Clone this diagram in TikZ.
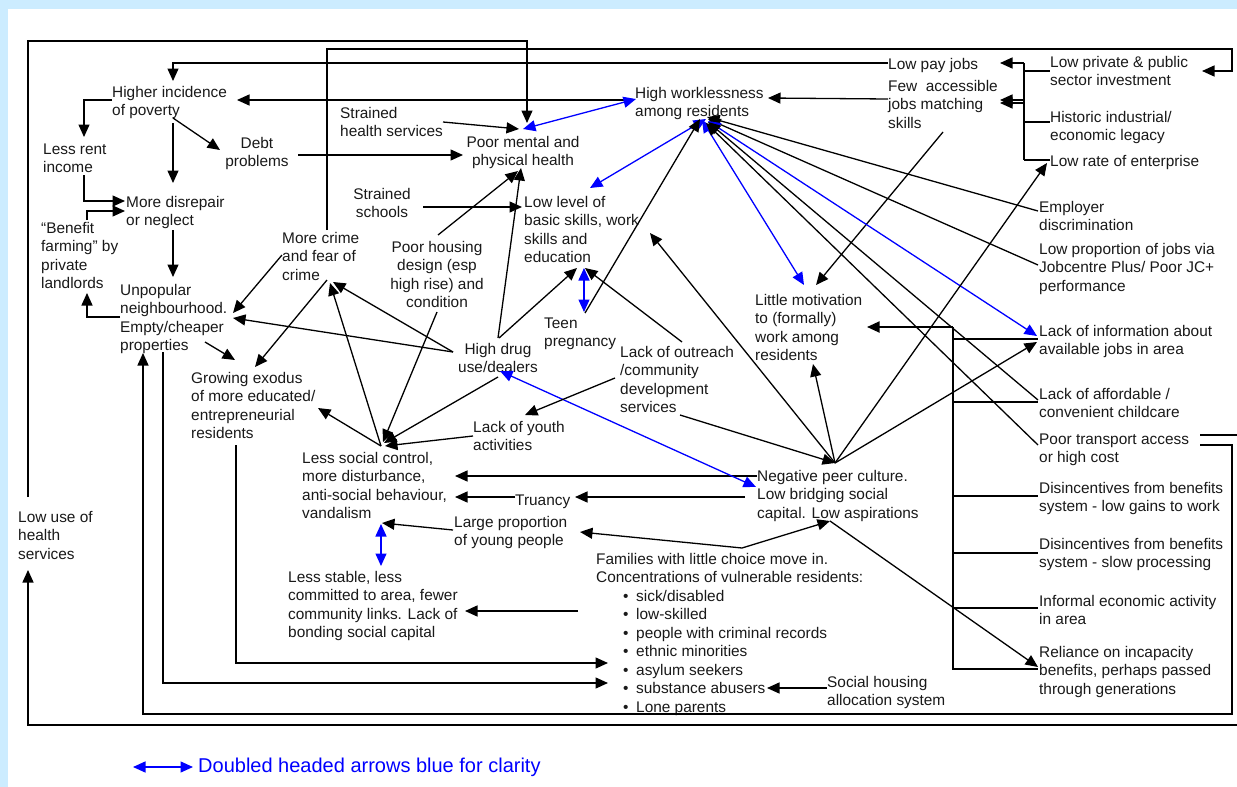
\documentclass[tikz,border=0pt]{standalone}
\usepackage{fontspec}
\setmainfont{Liberation Sans}
\usetikzlibrary{arrows.meta}
\definecolor{bgblue}{RGB}{204,236,255}
\definecolor{ink}{RGB}{25,25,25}
\newcommand\bul{\makebox[13pt][l]{\textbullet}}
\begin{document}
\begin{tikzpicture}[x=1pt,y=-1pt,
  lbl/.style={anchor=base west,inner sep=0pt,align=left,text=ink,font=\fontsize{15.4}{18.5}\selectfont},
  clbl/.style={anchor=base,inner sep=0pt,align=center,text=ink,font=\fontsize{15.4}{18.5}\selectfont},
  nl/.style={yshift={-(#1-1)*18.5pt}},
  conn/.style={line width=1.3pt},
  arr/.style={conn,-{Triangle[length=12.5pt,width=11pt]}},
  barr/.style={conn,blue,{Triangle[length=12.5pt,width=11pt]}-{Triangle[length=12.5pt,width=11pt]}}]
\useasboundingbox (0,0) rectangle (1237,787);
\fill[bgblue] (0,0) rectangle (1237,787);
\fill[white] (8,9) rectangle (1237,787);

% ---------------- nodes (position = baseline of first line)
\node[lbl,nl=2] (hip) at (112,97) {Higher incidence\\of poverty};
\node[lbl,nl=2] (lri) at (43,154) {Less rent\\income};
\node[clbl,nl=2] (debt) at (257,148) {Debt\\problems};
\node[lbl,nl=2] (mdr) at (126,207) {More disrepair\\or neglect};
\node[lbl,nl=4] (bf) at (41,233) {“Benefit\\farming” by\\private\\landlords};
\node[lbl,nl=4] (unp) at (120,295) {Unpopular\\neighbourhood.\\Empty/cheaper\\properties};
\node[lbl,nl=3] (crime) at (282,243) {More crime\\and fear of\\crime};
\node[lbl,nl=2] (shs) at (340,118) {Strained\\health services};
\node[clbl,nl=2] (ss) at (382,199) {Strained\\schools};
\node[clbl,nl=4] (phd) at (437,252) {Poor housing\\design (esp\\high rise) and\\condition};
\node[clbl,nl=2] (pmh) at (523,147) {Poor mental and\\physical health};
\node[lbl,nl=4] (llb) at (524,207) {Low level of\\basic skills, work\\skills and\\education};
\node[lbl,nl=2] (hw) at (635,98) {High worklessness\\among residents};
\node[lbl] (lpj) at (888,69) {Low pay jobs};
\node[lbl,nl=3] (faj) at (888,91) {Few\ \ accessible\\jobs matching\\skills};
\node[lbl,nl=2] (lpi) at (1050,67) {Low private \& public\\sector investment};
\node[lbl,nl=2] (hie) at (1050,122) {Historic industrial/\\economic legacy};
\node[lbl] (lre) at (1050,166) {Low rate of enterprise};
\node[lbl,nl=2] (ed) at (1039,212) {Employer\\discrimination};
\node[lbl,nl=3] (lpjc) at (1039,254) {Low proportion of jobs via\\Jobcentre Plus/ Poor JC+\\performance};
\node[lbl,nl=2] (lia) at (1039,336) {Lack of information about\\available jobs in area};
\node[lbl,nl=2] (lac) at (1039,399) {Lack of affordable /\\convenient childcare};
\node[lbl,nl=2] (pta) at (1039,444) {Poor transport access\\or high cost};
\node[lbl,nl=2] (dlg) at (1039,493) {Disincentives from benefits\\system - low gains to work};
\node[lbl,nl=2] (dsp) at (1039,549) {Disincentives from benefits\\system - slow processing};
\node[lbl,nl=2] (iea) at (1039,606) {Informal economic activity\\in area};
\node[lbl,nl=3] (ric) at (1039,657) {Reliance on incapacity\\benefits, perhaps passed\\through generations};
\node[lbl,nl=2] (shas) at (827,687) {Social housing\\allocation system};
\node[lbl,nl=4] (lmw) at (755,305) {Little motivation\\to (formally)\\work among\\residents};
\node[lbl,nl=3] (npc) at (757,481) {Negative peer culture.\\Low bridging social\\capital. Low aspirations};
\node[lbl,nl=2] (tp) at (544,328) {Teen\\pregnancy};
\node[clbl,nl=2] (hdu) at (498,354) {High drug\\use/dealers};
\node[lbl,nl=4] (lo) at (620,357) {Lack of outreach\\/community\\development\\services};
\node[lbl,nl=2] (ly) at (473,432) {Lack of youth\\activities};
\node[lbl,nl=4] (lsc) at (302,463) {Less social control,\\more disturbance,\\anti-social behaviour,\\vandalism};
\node[lbl] (tru) at (515,505) {Truancy};
\node[lbl,nl=2] (lpy) at (454,527) {Large proportion\\of young people};
\node[lbl,nl=4] (ge) at (191,383) {Growing exodus\\of more educated/\\entrepreneurial\\residents};
\node[lbl,nl=3] (lus) at (18,522) {Low use of\\health\\services};
\node[lbl,nl=4] (lst) at (288,582) {Less stable, less\\committed to area, fewer\\community links. Lack of\\bonding social capital};
\node[lbl,nl=2] (fam) at (596,564) {Families with little choice move in.\\Concentrations of vulnerable residents:};
\node[lbl,nl=7] (vul) at (623,601) {\bul sick/disabled\\\bul low-skilled\\\bul people with criminal records\\\bul ethnic minorities\\\bul asylum seekers\\\bul substance abusers\\\bul Lone parents};
\node[anchor=base west,inner sep=0pt,text=blue,font=\fontsize{20}{24}\selectfont] (legtxt) at (198,772) {Doubled headed arrows blue for clarity};

% ---------------- named points
\coordinate (hwhub) at (706,119);
\coordinate (nphub) at (835,463);
\coordinate (lshub) at (381,446);
\coordinate (famhub) at (742,548);
\coordinate (npbot) at (830,521);
\coordinate (lusT) at (28,497);
\coordinate (pmhT) at (527,123);
\coordinate (crT) at (327,230);
\coordinate (lpiR) at (1202,71);
\coordinate (lpjL) at (888,63);
\coordinate (hipT) at (173,81);
\coordinate (hwL) at (633,100);
\coordinate (hipR) at (237,100);
\coordinate (pmhR) at (523,129);
\coordinate (hwL2) at (636,99);
\coordinate (fajL) at (888,99);
\coordinate (hwR) at (768,98);
\coordinate (brT) at (1024,63);
\coordinate (brB) at (1024,160);
\coordinate (lpjR) at (1000,63);
\coordinate (hipL) at (112,100);
\coordinate (lriT) at (84,137);
\coordinate (hipB) at (173,123);
\coordinate (mdrT) at (173,183);
\coordinate (hipB2) at (173,118);
\coordinate (debtL) at (220,150);
\coordinate (lriB) at (84,175);
\coordinate (mdrL) at (125,201);
\coordinate (bfT) at (87,220);
\coordinate (mdrL2) at (125,211);
\coordinate (mdrB) at (173,230);
\coordinate (unpT) at (173,277);
\coordinate (unpL) at (120,317);
\coordinate (bfB) at (87,293);
\coordinate (debtR) at (298,155);
\coordinate (pmhL) at (463,155);
\coordinate (shsR) at (443,122);
\coordinate (pmhL2) at (519,129);
\coordinate (ssR) at (423,207);
\coordinate (llbL) at (522,207);
\coordinate (phdT) at (438,235);
\coordinate (pmhB) at (518,171);
\coordinate (hduT) at (498,338);
\coordinate (pmhB2) at (521,168);
\coordinate (llbTL) at (590,188);
\coordinate (tpT) at (585,313);
\coordinate (lmwT) at (804,285);
\coordinate (fajB) at (943,132);
\coordinate (lmwT2) at (816,285);
\coordinate (edL) at (1038,211);
\coordinate (lpjcL) at (1038,265);
\coordinate (liaL) at (1037,336);
\coordinate (lacL) at (1038,400);
\coordinate (ptaL) at (1038,445);
\coordinate (loB) at (680,415);
\coordinate (llbR) at (650,233);
\coordinate (lmwB) at (813,364);
\coordinate (lreL) at (1047,163);
\coordinate (liaL2) at (1037,342);
\coordinate (lmwR) at (867,327);
\coordinate (lbT) at (953,327);
\coordinate (lbB) at (953,670);
\coordinate (npcL) at (757,476);
\coordinate (lscR) at (455,476);
\coordinate (npcL2) at (745,497);
\coordinate (truR) at (575,497);
\coordinate (truL) at (515,497);
\coordinate (lscR2) at (455,497);
\coordinate (hduB) at (500,371);
\coordinate (npcT) at (756,487);
\coordinate (loL) at (615,378);
\coordinate (lyT) at (525,415);
\coordinate (loT) at (682,342);
\coordinate (llbB) at (585,268);
\coordinate (llbB2) at (584,268);
\coordinate (tpT2) at (584,312);
\coordinate (hduT2) at (499,338);
\coordinate (llbB3) at (577,268);
\coordinate (hduL) at (453,352);
\coordinate (crB) at (333,282);
\coordinate (unpR) at (233,318);
\coordinate (crL) at (282,255);
\coordinate (unpR2) at (233,313);
\coordinate (crB2) at (327,280);
\coordinate (geT) at (255,367);
\coordinate (unpB) at (205,342);
\coordinate (geT2) at (235,360);
\coordinate (geR) at (318,408);
\coordinate (crB3) at (330,283);
\coordinate (hduB2) at (498,377);
\coordinate (lyL) at (473,436);
\coordinate (phdB) at (437,312);
\coordinate (lpyL) at (453,530);
\coordinate (lscB) at (382,523);
\coordinate (lscB2) at (381,524);
\coordinate (lstT) at (381,566);
\coordinate (famL) at (578,611);
\coordinate (lstR) at (465,611);
\coordinate (lpyR) at (580,532);
\coordinate (ricL) at (1038,667);
\coordinate (shasL) at (827,688);
\coordinate (vulR) at (767,688);
\coordinate (geB) at (236,445);
\coordinate (vulL1) at (608,663);
\coordinate (unpB2) at (163,352);
\coordinate (vulL2) at (608,683);
\coordinate (ptaR1) at (1200,445);
\coordinate (unpB3) at (143,353);
\coordinate (ptaR2) at (1200,435);
\coordinate (lusB) at (28,570);
\coordinate (legA) at (133,767);
\coordinate (legB) at (193,767);

% ---------------- connectors
\draw[arr] (lusT) -- (28,41) -| (pmhT);
\draw[arr] (crT) -- (327,49) -- (1232,49) |- (lpiR);
\draw[arr] (lpjL) -| (hipT);
\draw[arr] (hwL) -- (hipR);
\draw[barr] (pmhR) -- (hwL2);
\draw[arr] (fajL) -- (hwR);
% right bracket
\draw[conn] (brT) -- (brB);
\draw[arr] (brT) -- (lpjR);
\draw[arr] (1024,100) -- (1000,100);
\draw[arr] (1024,103) -- (1000,103);
\draw[conn] (1024,71) -- (1050,71);
\draw[conn] (1024,122) -- (1050,122);
\draw[conn] (brB) -- (1050,160);
% left side
\draw[arr] (hipL) -| (lriT);
\draw[arr] (hipB) -- (mdrT);
\draw[arr] (hipB2) -- (debtL);
\draw[arr] (lriB) |- (mdrL);
\draw[arr] (bfT) |- (mdrL2);
\draw[arr] (mdrB) -- (unpT);
\draw[arr] (unpL) -| (bfB);
% into poor mental health / skills
\draw[arr] (debtR) -- (pmhL);
\draw[arr] (shsR) -- (pmhL2);
\draw[arr] (ssR) -- (llbL);
\draw[arr] (phdT) -- (pmhB);
\draw[arr] (hduT) -- (pmhB2);
% worklessness hub
\draw[barr] (hwhub) -- (llbTL);
\draw[arr] (tpT) -- ([shift={(-6,0)}]hwhub);
\draw[barr] ([shift={(-4,1)}]hwhub) -- (lmwT);
\draw[arr] (fajB) -- (lmwT2);
\draw[arr] (edL) -- ([shift={(1,-2)}]hwhub);
\draw[arr] (lpjcL) -- ([shift={(2,0)}]hwhub);
\draw[barr] (liaL) -- ([shift={(2,2)}]hwhub);
\draw[arr] (lacL) -- ([shift={(2,3)}]hwhub);
\draw[arr] (ptaL) -- ([shift={(0,4)}]hwhub);
% negative peer hub
\draw[arr] (loB) -- (nphub);
\draw[arr] (nphub) -- (llbR);
\draw[arr] (nphub) -- (lmwB);
\draw[arr] (nphub) -- (lreL);
\draw[arr] (nphub) -- (liaL2);
% little motivation bracket
\draw[arr,line width=1.8pt] (lbT) -- (lmwR);
\draw[line width=1.8pt] (lbT) -- (lbB);
\draw[conn] (953,339) -- (1038,339);
\draw[conn] (953,402) -- (1038,402);
\draw[conn] (953,496) -- (1038,496);
\draw[conn] (953,553) -- (1038,553);
\draw[conn] (953,608) -- (1038,608);
\draw[conn] (953,669) -- (1038,669);
% lower middle
\draw[arr] (npcL) -- (lscR);
\draw[arr] (npcL2) -- (truR);
\draw[arr] (truL) -- (lscR2);
\draw[barr] (hduB) -- (npcT);
\draw[arr] (loL) -- (lyT);
\draw[arr] (loT) -- (llbB);
\draw[barr] (llbB2) -- (tpT2);
\draw[arr] (hduT2) -- (llbB3);
\draw[arr] (hduL) -- (crB);
\draw[arr] (hduL) -- (unpR);
\draw[arr] (crL) -- (unpR2);
\draw[arr] (crB2) -- (geT);
\draw[arr] (unpB) -- (geT2);
\draw[arr] (lshub) -- (geR);
\draw[arr] (lshub) -- (crB3);
\draw[arr] (hduB2) -- ([shift={(3,-3)}]lshub);
\draw[arr] (lyL) -- ([shift={(4,0)}]lshub);
\draw[arr] (phdB) -- ([shift={(2,-4)}]lshub);
\draw[arr] (lpyL) -- (lscB);
\draw[barr] (lscB2) -- (lstT);
\draw[arr] (famL) -- (lstR);
\draw[arr] (famhub) -- (lpyR);
\draw[arr] (famhub) -- (npbot);
\draw[arr] (npbot) -- (ricL);
\draw[arr] (shasL) -- (vulR);
% long loops
\draw[arr] (geB) |- (vulL1);
\draw[arr] (unpB2) |- (vulL2);
\draw[arr] (ptaR1) -- (1232,445) -- (1232,714) -| (unpB3);
\draw[arr] (ptaR2) -- (1245,435) -- (1245,725) -| (lusB);
% legend
\draw[barr] (legA) -- (legB);
\end{tikzpicture}
\end{document}
